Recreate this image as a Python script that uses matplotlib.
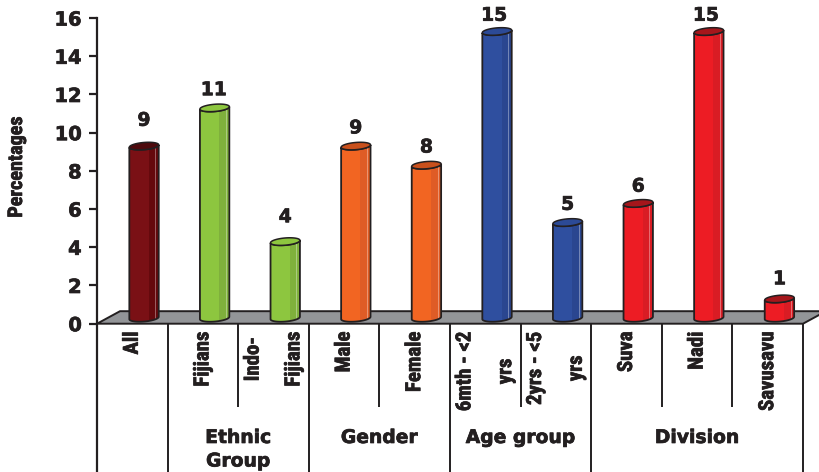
import matplotlib
matplotlib.use('Agg')
import matplotlib.pyplot as plt
import matplotlib.patheffects as pe
import numpy as np

# Prevalence by subgroup
categories = ['All', 'Fijians', 'Indo-\nFijians', 'Male', 'Female',
              '6mth - <2\nyrs', '2yrs - <5\nyrs', 'Suva', 'Nadi', 'Savusavu']
values = [9, 11, 4, 9, 8, 15, 5, 6, 15, 1]
groups = ['Ethnic\nGroup', 'Gender', 'Age group', 'Division']
group_centres = [2.0, 4.0, 6.0, 8.5]

body_colors = ['#7a1015', '#8dc63f', '#8dc63f', '#f26522', '#f26522',
               '#2f4f9f', '#2f4f9f', '#ed1c24', '#ed1c24', '#ed1c24']
dark_colors = ['#65090d', '#7fb03c', '#7fb03c', '#df5c26', '#df5c26',
               '#2a4690', '#2a4690', '#d91c24', '#d91c24', '#d91c24']
top_colors = ['#4e0a0d', '#8dc63f', '#8dc63f', '#c9501c', '#c9501c',
              '#2c4a96', '#2c4a96', '#a5161b', '#a5161b', '#a5161b']
label_gaps = [1.35, 0.95, 1.3, 0.95, 0.95, 0.85, 0.95, 0.9, 0.85, 1.05]
label_nudge = [0, -1, 0, 0, 0, -3, 0, 0, -3, 0]

full_dividers = [1, 3, 5, 7, 10]
short_dividers = [2, 4, 6, 8, 9]

INK = '#231f20'
FLOOR = '#939598'
PX_X = 70.6   # pixels per category
PX_Y = 19.1   # pixels per percentage point

CONDENSED = ['Roboto Condensed', 'Liberation Sans', 'DejaVu Sans']
heavy = [pe.withStroke(linewidth=0.5, foreground=INK)]

fig = plt.figure(figsize=(8.19, 4.72), dpi=100)
ax = fig.add_axes([0, 0, 1, 1])
ax.set_xlim(-97 / PX_X, (819 - 97) / PX_X)
ax.set_ylim(-(472 - 323.7) / PX_Y, 323.7 / PX_Y)
ax.patch.set_alpha(0)

for side in ['top', 'right', 'bottom']:
    ax.spines[side].set_visible(False)
ax.spines['left'].set_position(('data', 0))
ax.spines['left'].set_bounds(ax.get_ylim()[0], 16)
ax.spines['left'].set_linewidth(1.6)
ax.spines['left'].set_color(INK)
ax.set_xticks([])
ax.set_yticks(range(0, 17, 2))
ax.tick_params(axis='y', length=6, width=1.6, color=INK, pad=5)
for t in ax.get_yticklabels():
    t.set_fontsize(14)
    t.set_fontweight('bold')
    t.set_color(INK)
    t.set_path_effects(heavy)

# floor of the 3d plot
dx = 23 / PX_X
dy = 12.5 / PX_Y
ax.fill([0, dx, 10 + dx, 10], [0, dy, dy, 0], facecolor=FLOOR, edgecolor=INK,
        linewidth=1.4, zorder=1)

# cylinders
half_w = 14.7 / PX_X
half_h = 3.6 / PX_Y
tilt = 1.2 / PX_Y
t = np.linspace(0, 2 * np.pi, 80)
for i, v in enumerate(values):
    cx = i + 0.5 + 0.166
    y0 = 0.3
    y1 = v + 0.3
    ex = cx + half_w * np.cos(t)
    shear = tilt * np.cos(t)
    lower = t >= np.pi
    order = np.argsort(ex[lower])
    bx = ex[lower][order]
    by = (y0 + half_h * np.sin(t) + shear)[lower][order]
    tx = bx[::-1]
    ty = (y1 + half_h * np.sin(t) + shear)[lower][order][::-1]
    body = ax.fill(np.r_[bx, tx], np.r_[by, ty], facecolor=body_colors[i],
                   edgecolor='none', zorder=2)[0]
    band = ax.bar(cx + half_w * 0.62, y1 + 1, width=half_w * 0.62, bottom=0,
                  color=dark_colors[i], zorder=2.1)[0]
    band.set_clip_path(body)
    glint = ax.bar(cx + half_w * 0.8, y1 + 1, width=half_w * 0.07, bottom=0,
                   color='white', alpha=0.35, zorder=2.2)[0]
    glint.set_clip_path(body)
    ax.fill(np.r_[bx, tx], np.r_[by, ty], facecolor='none', edgecolor=INK,
            linewidth=1.3, zorder=2.3)
    ax.fill(ex, y1 + half_h * np.sin(t) + shear, facecolor=top_colors[i],
            edgecolor=INK, linewidth=1.1, zorder=2.4)
    ax.text(cx + label_nudge[i] / PX_X, v + 0.3 + label_gaps[i], str(v),
            ha='center', va='center', fontsize=13.5, fontweight='bold',
            color=INK, path_effects=heavy)

# table below the axis
bottom = ax.get_ylim()[0]
short_end = -(407 - 323.7) / PX_Y
for x in full_dividers:
    ax.plot([x, x], [0, bottom], color=INK, lw=1.4, solid_capstyle='butt', zorder=1)
for x in short_dividers:
    ax.plot([x, x], [0, short_end], color=INK, lw=1.4, solid_capstyle='butt', zorder=1)

top_of_labels = -(331.5 - 323.7) / PX_Y
for i, name in enumerate(categories):
    ax.text(i + 0.5, top_of_labels, name, rotation=90, ha='center', va='top',
            ma='center', fontsize=15, fontweight='bold', family=CONDENSED,
            color=INK, linespacing=2.45, path_effects=heavy)

for xc, name in zip(group_centres, groups):
    ax.text(xc, -(428 - 323.7) / PX_Y, name, ha='center', va='top', fontsize=13.5,
            fontweight='bold', color=INK, linespacing=1.3, path_effects=heavy)

ax.text(-80.5 / PX_X, (323.7 - 167) / PX_Y, 'Percentages', rotation=90, ha='center',
        va='center', fontsize=14.5, fontweight='bold', family=CONDENSED, color=INK,
        path_effects=heavy)

fig.savefig('out.png', dpi=100)
plt.close(fig)
